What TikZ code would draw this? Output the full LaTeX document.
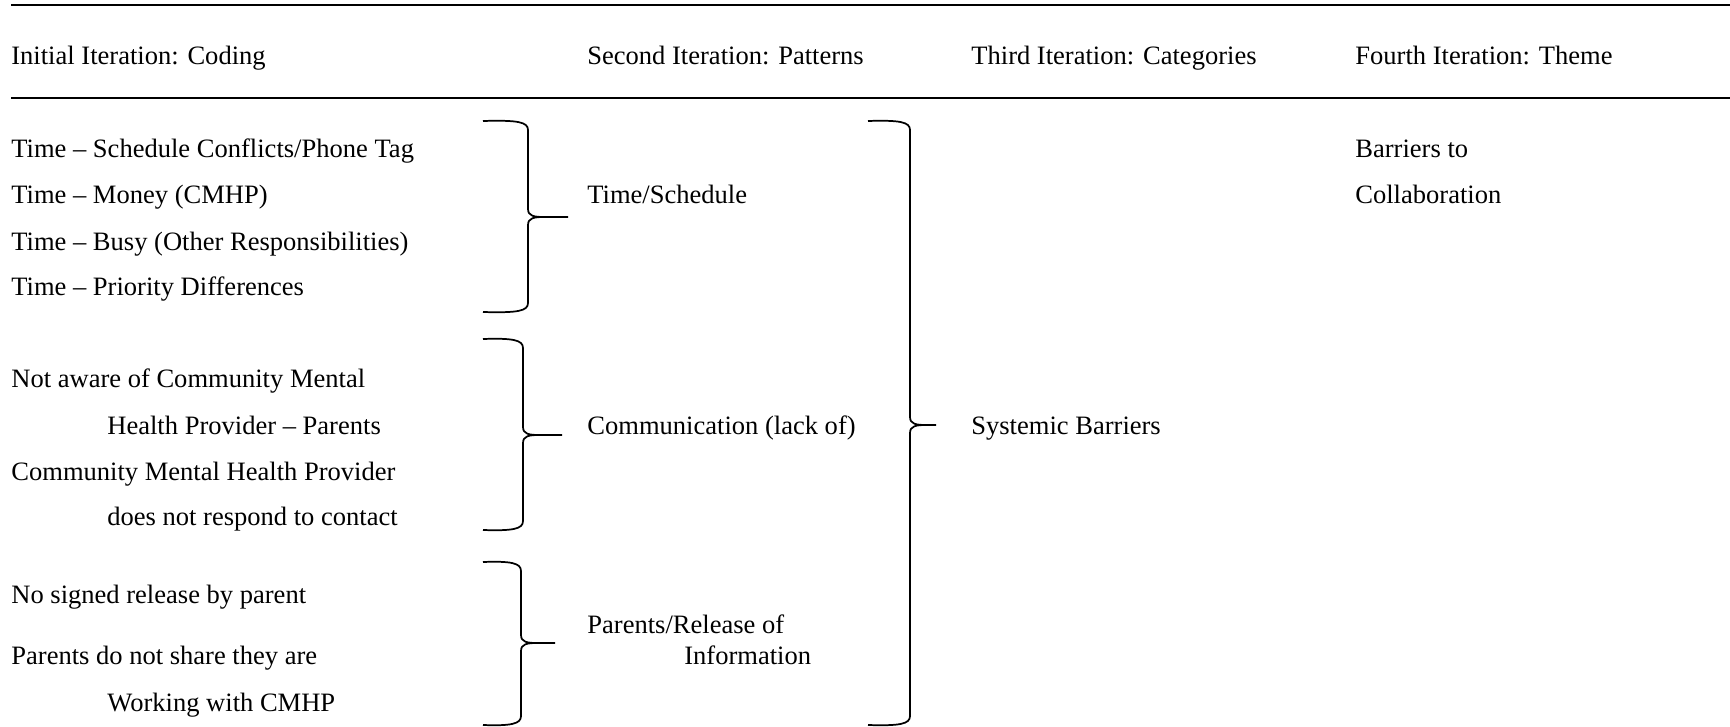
\documentclass[tikz,border=0pt]{standalone}
\usepackage{fontspec}
\setmainfont{Liberation Serif}
\usetikzlibrary{positioning}

\begin{document}
\begin{tikzpicture}[x=0.52pt,y=-0.52pt]
\tikzset{
 t/.style={anchor=base west,inner sep=0pt,font=\fontsize{13.8}{16}\selectfont},
 brc/.style={line width=0.9pt},
 rule/.style={line width=0.9pt}
}
\useasboundingbox (0,0) rectangle (1730,727);
% header rows
\draw[rule] (11,5) -- (1730,5);
\node[t] (h1) at (11,65) {Initial Iteration: Coding};
\node[t] (h2) at (587,65) {Second Iteration: Patterns};
\node[t] (h3) at (971,65) {Third Iteration: Categories};
\node[t] (h4) at (1355,65) {Fourth Iteration: Theme};
\draw[rule] (11,98) -- (1730,98);
% codes
\node[t] (c1) at (11,158) {Time -- Schedule Conflicts/Phone Tag};
\node[t] (c2) at (11,203) {Time -- Money (CMHP)};
\node[t] (c3) at (11,250) {Time -- Busy (Other Responsibilities)};
\node[t] (c4) at (11,295) {Time -- Priority Differences};
\node[t] (c5) at (11,387) {Not aware of Community Mental};
\node[t] (c6) at (107,434) {Health Provider -- Parents};
\node[t] (c7) at (11,480) {Community Mental Health Provider};
\node[t] (c8) at (107,525) {does not respond to contact};
\node[t] (c9) at (11,603) {No signed release by parent};
\node[t] (c10) at (11,664) {Parents do not share they are};
\node[t] (c11) at (107,711) {Working with CMHP};
% patterns, category, theme
\node[t] (p1) at (587,203) {Time/Schedule};
\node[t] (p2) at (587,434) {Communication (lack of)};
\node[t] (p3) at (587,633) {Parents/Release of};
\node[t] (p3b) at (684,664) {Information};
\node[t] (k1) at (971,434) {Systemic Barriers};
\node[t] (th1) at (1355,158) {Barriers to};
\node[t] (th2) at (1355,203) {Collaboration};
% braces: left end / spine / tip / top / middle / bottom
\foreach \l/\v/\tp/\a/\m/\b in {483/528/568/121/217/312,483/523/562/339/435/530,483/521/555/562/643/725,868/910/936/121/425/725}{
 \draw[brc] (\l,\a) .. controls (\v-10,\a-1) and (\v,\a+1) .. (\v,\a+9) -- (\v,\m-8)
  .. controls (\v,\m-1) and (\v+6,\m) .. (\v+16,\m) -- (\tp,\m)
  (\v+16,\m) .. controls (\v+6,\m) and (\v,\m+1) .. (\v,\m+8) -- (\v,\b-9)
  .. controls (\v,\b-1) and (\v-10,\b+1) .. (\l,\b);
}
\end{tikzpicture}
\end{document}
